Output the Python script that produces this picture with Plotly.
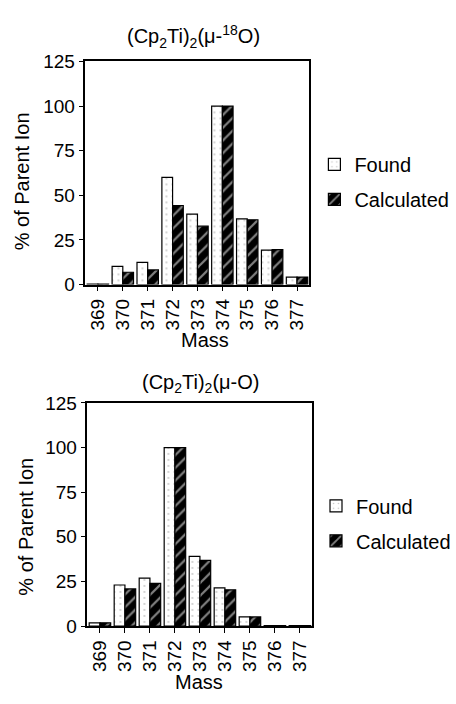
import plotly.graph_objects as go

masses = ["369", "370", "371", "372", "373", "374", "375", "376", "377"]
found_18O = [0.3, 10.2, 12.4, 60, 39.5, 100, 36.8, 19.3, 4.2]
calc_18O = [0.3, 6.9, 8.2, 44.3, 32.7, 100, 36.3, 19.6, 4.2]
found_O = [1.8, 23, 26.8, 100, 39, 21.4, 5.1, 0.3, 0.3]
calc_O = [1.8, 20.8, 23.9, 100, 36.8, 20.3, 5.1, 0.3, 0.3]
yticks = [0, 25, 50, 75, 100, 125]

W, H = 456, 704
FONT = "Liberation Sans, Arial, sans-serif"

def px(x):
    return x / W

def py(y):
    return 1 - y / H

found_marker = dict(color="white", line=dict(color="black", width=1.2),
                    pattern=dict(shape=".", fgcolor="#888888", bgcolor="white", size=6, solidity=0.08))
calc_marker = dict(color="black", line=dict(color="black", width=1.2),
                   pattern=dict(shape="/", fgcolor="white", bgcolor="black", size=9, solidity=0.25))

fig = go.Figure()
fig.add_trace(go.Bar(x=masses, y=found_18O, name="Found", marker=found_marker,
                     xaxis="x", yaxis="y", legend="legend", legendgroup="a"))
fig.add_trace(go.Bar(x=masses, y=calc_18O, name="Calculated", marker=calc_marker,
                     xaxis="x", yaxis="y", legend="legend", legendgroup="b"))
fig.add_trace(go.Bar(x=masses, y=found_O, name="Found", marker=found_marker,
                     xaxis="x2", yaxis="y2", legend="legend2", legendgroup="c"))
fig.add_trace(go.Bar(x=masses, y=calc_O, name="Calculated", marker=calc_marker,
                     xaxis="x2", yaxis="y2", legend="legend2", legendgroup="d"))

axis_common = dict(showline=True, linecolor="black", linewidth=1.5, mirror=True,
                   ticks="outside", ticklen=5, tickcolor="black", showgrid=False, zeroline=False,
                   tickfont=dict(family=FONT, size=19, color="black"))

xcommon = dict(axis_common, type="category", range=[-0.5, 8.5], tickangle=-90)
ycommon = dict(axis_common, range=[0, 125], tickvals=yticks)

legend_common = dict(font=dict(family=FONT, size=20, color="black"), bgcolor="rgba(0,0,0,0)",
                     xanchor="left", yanchor="top", traceorder="grouped", tracegroupgap=6)

fig.update_layout(
    width=W, height=H,
    margin=dict(l=0, r=0, t=0, b=0),
    paper_bgcolor="white", plot_bgcolor="white",
    barmode="group", bargap=0.14, bargroupgap=0,
    xaxis=dict(xcommon, domain=[px(87), px(315)], anchor="y"),
    yaxis=dict(ycommon, domain=[py(283), py(53)], anchor="x"),
    xaxis2=dict(xcommon, domain=[px(89), px(318)], anchor="y2"),
    yaxis2=dict(ycommon, domain=[py(635), py(405)], anchor="x2"),
    legend=dict(legend_common, x=px(320), y=py(139)),
    legend2=dict(legend_common, x=px(322), y=py(491)),
    showlegend=True,
)

ann_font = dict(family=FONT, size=20, color="black")
annotations = [
    dict(text="(Cp<sub>2</sub>Ti)<sub>2</sub>(\u03bc-<sup>18</sup>O)", x=px(197), y=py(27)),
    dict(text="(Cp<sub>2</sub>Ti)<sub>2</sub>(\u03bc-O)", x=px(204), y=py(385)),
    dict(text="% of Parent Ion", x=px(22), y=py(177), textangle=-90),
    dict(text="% of Parent Ion", x=px(27), y=py(533), textangle=-90),
    dict(text="Mass", x=px(209), y=py(340)),
    dict(text="Mass", x=px(203), y=py(693)),
]
for a in annotations:
    fig.add_annotation(xref="paper", yref="paper", showarrow=False,
                       xanchor="center", yanchor="middle",
                       font=ann_font, **a)

fig.write_html("out.html")
